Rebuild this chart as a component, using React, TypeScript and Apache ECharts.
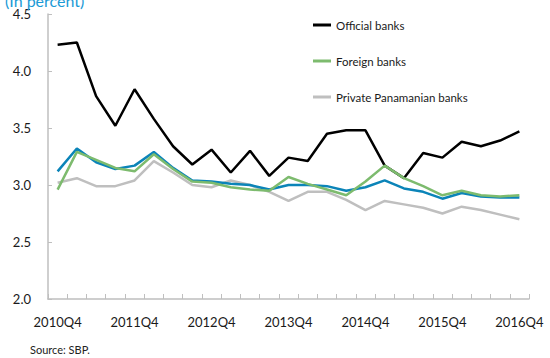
import React, { useEffect, useRef } from "react";
import * as echarts from "echarts";

const quarters = [
  "2010Q4", "2011Q1", "2011Q2", "2011Q3", "2011Q4", "2012Q1", "2012Q2", "2012Q3",
  "2012Q4", "2013Q1", "2013Q2", "2013Q3", "2013Q4", "2014Q1", "2014Q2", "2014Q3",
  "2014Q4", "2015Q1", "2015Q2", "2015Q3", "2015Q4", "2016Q1", "2016Q2", "2016Q3", "2016Q4",
];

const officialBanks = [4.23, 4.25, 3.78, 3.52, 3.84, 3.58, 3.34, 3.18, 3.31, 3.11, 3.30, 3.08, 3.24, 3.21, 3.45, 3.48, 3.48, 3.17, 3.06, 3.28, 3.24, 3.38, 3.34, 3.39, 3.47];
const foreignBanks = [2.96, 3.29, 3.22, 3.15, 3.12, 3.27, 3.14, 3.03, 3.02, 2.98, 2.96, 2.95, 3.07, 3.01, 2.96, 2.91, 3.03, 3.17, 3.06, 2.99, 2.91, 2.95, 2.91, 2.90, 2.91];
const privatePanamanianBanks = [3.02, 3.06, 2.99, 2.99, 3.04, 3.21, 3.11, 3.00, 2.98, 3.04, 3.00, 2.94, 2.86, 2.94, 2.94, 2.87, 2.78, 2.86, 2.83, 2.80, 2.75, 2.81, 2.78, 2.74, 2.70];
const systemTotal = [3.12, 3.32, 3.20, 3.14, 3.17, 3.29, 3.15, 3.04, 3.03, 3.01, 3.00, 2.96, 3.00, 3.00, 2.99, 2.95, 2.98, 3.04, 2.97, 2.94, 2.88, 2.93, 2.90, 2.89, 2.89];

const yTicks = { min: 2.0, max: 4.5, interval: 0.5 };

const FONT = "Lato, 'Open Sans', sans-serif";

export default function App() {
  const ref = useRef<HTMLDivElement>(null);
  useEffect(() => {
    if (!ref.current) return;
    const chart = echarts.init(ref.current, null, { renderer: "svg" });
    const axisGray = "#bfbfbf";
    chart.setOption({
      animation: false,
      backgroundColor: "#ffffff",
      textStyle: { fontFamily: FONT },
      title: [
        {
          text: "(In percent)",
          left: 0,
          top: -13,
          textStyle: { color: "#1b9ad6", fontSize: 16, fontWeight: "normal", fontFamily: FONT },
        },
        {
          text: "Source: SBP.",
          left: 25,
          top: 339,
          textStyle: { color: "#222", fontSize: 11, fontWeight: "normal", fontFamily: FONT },
        },
      ],
      legend: {
        orient: "vertical",
        left: 308,
        top: 14,
        itemGap: 24,
        itemWidth: 18,
        itemHeight: 3,
        icon: "rect",
        data: ["Official banks", "Foreign banks", "Private Panamanian banks"],
        textStyle: { color: "#1a1a1a", fontSize: 11.5, fontFamily: FONT },
      },
      grid: { left: 48, right: 21, top: 14, bottom: 59, containLabel: false },
      xAxis: {
        type: "category",
        data: quarters,
        boundaryGap: true,
        axisLine: { lineStyle: { color: axisGray, width: 1.5 } },
        axisTick: { show: true, inside: true, length: 5, interval: 0, lineStyle: { color: axisGray } },
        axisLabel: { interval: 3, margin: 16, color: "#1a1a1a", fontSize: 13, fontFamily: FONT },
        splitLine: { show: false },
      },
      yAxis: {
        type: "value",
        min: yTicks.min,
        max: yTicks.max,
        interval: yTicks.interval,
        axisLine: { show: true, lineStyle: { color: axisGray, width: 1.5 } },
        axisTick: { show: true, inside: true, length: 4, lineStyle: { color: axisGray } },
        axisLabel: {
          margin: 17,
          color: "#1a1a1a",
          fontSize: 13,
          fontFamily: FONT,
          formatter: (v: number) => v.toFixed(1),
        },
        splitLine: { show: false },
      },
      series: [
        {
          name: "Private Panamanian banks",
          type: "line",
          data: privatePanamanianBanks,
          symbol: "none",
          lineStyle: { color: "#bfbfbf", width: 2.5 },
          itemStyle: { color: "#bfbfbf" },
        },
        {
          name: "Banking system",
          type: "line",
          data: systemTotal,
          symbol: "none",
          lineStyle: { color: "#0b84b8", width: 2.5 },
          itemStyle: { color: "#0b84b8" },
        },
        {
          name: "Official banks",
          type: "line",
          data: officialBanks,
          symbol: "none",
          lineStyle: { color: "#000000", width: 2.5 },
          itemStyle: { color: "#000000" },
        },
        {
          name: "Foreign banks",
          type: "line",
          data: foreignBanks,
          symbol: "none",
          lineStyle: { color: "#7dbb6e", width: 2.5 },
          itemStyle: { color: "#7dbb6e" },
        },
      ],
    });
    return () => chart.dispose();
  }, []);
  return <div ref={ref} style={{ width: 550, height: 358, position: "absolute", left: 0, top: 0 }} />;
}
